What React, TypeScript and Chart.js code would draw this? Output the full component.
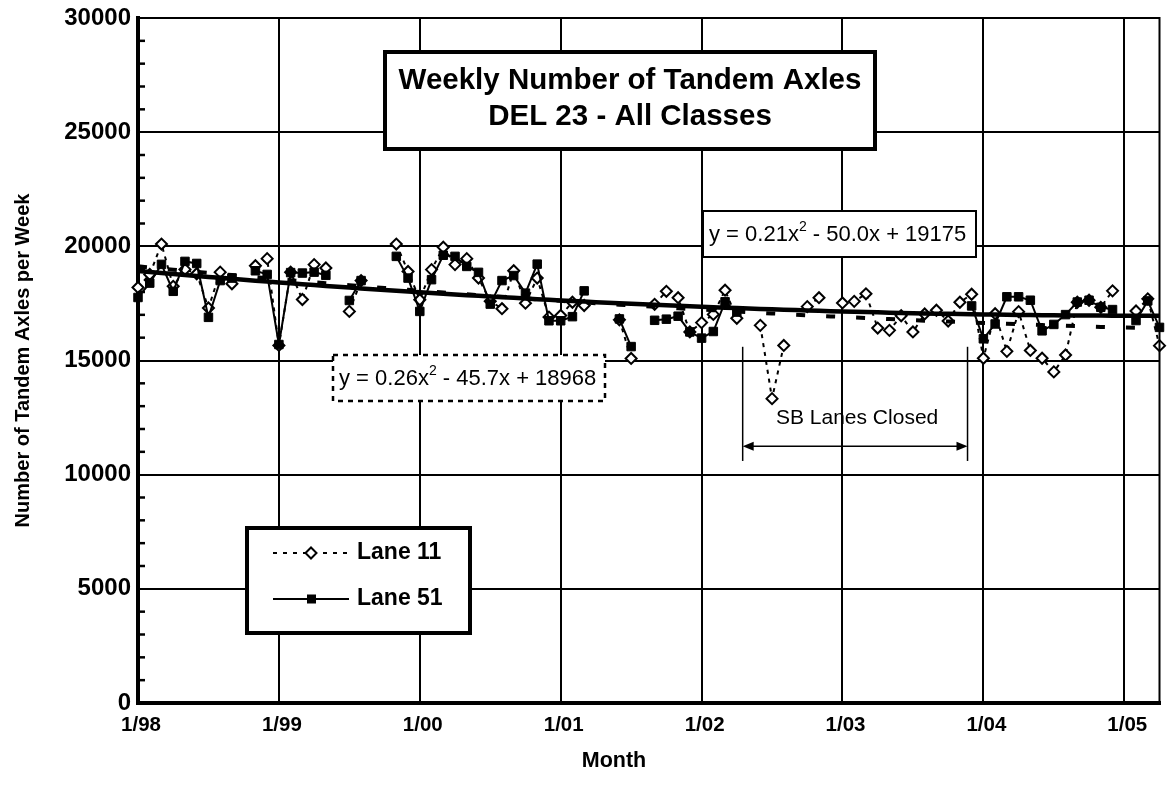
import { useEffect, useRef } from 'react';
import { Chart, registerables } from 'chart.js';

Chart.register(...registerables);

// Month index since 1/98 (0 = Jan 1998 ... 87 = Apr 2005)
const months = [
  0, 1, 2, 3, 4, 5, 6, 7, 8, 9, 10, 11, 12, 13, 14, 15, 16, 17, 18, 19, 20, 21,
  22, 23, 24, 25, 26, 27, 28, 29, 30, 31, 32, 33, 34, 35, 36, 37, 38, 39, 40, 41,
  42, 43, 44, 45, 46, 47, 48, 49, 50, 51, 52, 53, 54, 55, 56, 57, 58, 59, 60, 61,
  62, 63, 64, 65, 66, 67, 68, 69, 70, 71, 72, 73, 74, 75, 76, 77, 78, 79, 80, 81,
  82, 83, 84, 85, 86, 87,
];

const xTickMonths = [0, 12, 24, 36, 48, 60, 72, 84];
const xTickLabels = ['1/98', '1/99', '1/00', '1/01', '1/02', '1/03', '1/04', '1/05'];
const yTickValues = [0, 5000, 10000, 15000, 20000, 25000, 30000];

const lane11: (number | null)[] = [
  18200, 18770, 20100, 18250, 18990, 18800, 17300, 18870, 18360, null,
  19150, 19460, 15660, 18870, 17670, 19200, 19050, null, 17150, 18500,
  null, null, 20100, 18900, 17660, 18980, 19960, 19200, 19460, 18610,
  17600, 17270, 18930, 17510, 18610, 16900, 16970, 17550, 17410, null,
  null, 16780, 15090, null, 17460, 18030, 17750, 16250, 16660, 17020,
  18080, 16850, null, 16540, 13330, 15660, null, 17360, 17750, null,
  17520, 17590, 17920, 16420, 16320, 16960, 16250, 17040, 17200, 16730,
  17550, 17900, 15100, 17050, 15400, 17140, 15440, 15100, 14500, 15240,
  17550, 17640, 17330, 18050, null, 17170, 17700, 15650,
];

const lane51: (number | null)[] = [
  17760, 18390, 19210, 18030, 19340, 19250, 16890, 18500, 18610, null,
  18930, 18770, 15700, 18850, 18830, 18870, 18730, null, 17630, 18500,
  null, null, 19560, 18610, 17150, 18540, 19610, 19560, 19120, 18860,
  17470, 18500, 18720, 17950, 19220, 16740, 16740, 16920, 18050, null,
  null, 16820, 15610, null, 16760, 16810, 16940, 16250, 15980, 16270,
  17570, 17120, null, null, null, null, null, null, null, null,
  null, null, null, null, null, null, null, null, null, null,
  null, 17390, 15950, 16600, 17790, 17790, 17640, 16300, 16580, 17010,
  17560, 17640, 17330, 17230, null, 16750, 17610, 16450,
];

// Polynomial trend lines, as printed on the chart (x = 1 for the first month)
const trend11Coef = [0.26, -45.7, 18968];
const trend51Coef = [0.21, -50.0, 19175];

const seriesNames = ['Lane 11', 'Lane 51'];
const titleLines = ['Weekly Number of Tandem Axles', 'DEL 23 - All Classes'];
const xTitle = 'Month';
const yTitle = 'Number of Tandem Axles per Week';
const noteText = 'SB Lanes Closed';
// closure annotation in data units (month index, value)
const noteFromMonth = 51.5;
const noteToMonth = 70.65;
const noteTopValue = 15600;
const noteBottomValue = 10600;
const noteArrowValue = 11250;

const FONT = "'Liberation Sans', Arial, Helvetica, sans-serif";

function trendValues(coef: number[]) {
  return months.map((m) => {
    const t = m + 1;
    return { x: m, y: coef[0] * t * t + coef[1] * t + coef[2] };
  });
}

function eqParts(coef: number[]): [string, string] {
  const b = coef[1];
  return [
    `y = ${coef[0].toFixed(2)}x`,
    ` ${b < 0 ? '-' : '+'} ${Math.abs(b).toFixed(1)}x + ${coef[2]}`,
  ];
}

function txt(
  ctx: CanvasRenderingContext2D,
  s: string,
  x: number,
  y: number,
  size: number,
  bold: boolean,
  align: CanvasTextAlign = 'center',
) {
  ctx.save();
  ctx.font = `${bold ? 'bold ' : ''}${size}px ${FONT}`;
  ctx.textAlign = align;
  ctx.textBaseline = 'middle';
  ctx.fillStyle = '#000';
  ctx.fillText(s, x, y);
  ctx.restore();
}

function drawEq(ctx: CanvasRenderingContext2D, parts: [string, string], x: number, y: number, size: number) {
  ctx.save();
  ctx.fillStyle = '#000';
  ctx.textAlign = 'left';
  ctx.textBaseline = 'middle';
  ctx.font = `${size}px ${FONT}`;
  ctx.fillText(parts[0], x, y);
  let w = ctx.measureText(parts[0]).width;
  ctx.font = `${Math.round(size * 0.62)}px ${FONT}`;
  ctx.fillText('2', x + w, y - size * 0.36);
  w += ctx.measureText('2').width;
  ctx.font = `${size}px ${FONT}`;
  ctx.fillText(parts[1], x + w, y);
  ctx.restore();
}

function box(ctx: CanvasRenderingContext2D, x0: number, y0: number, x1: number, y1: number, lw: number, dash: number[] = []) {
  ctx.save();
  ctx.fillStyle = '#fff';
  ctx.fillRect(x0, y0, x1 - x0, y1 - y0);
  ctx.strokeStyle = '#000';
  ctx.lineWidth = lw;
  ctx.setLineDash(dash);
  ctx.strokeRect(x0, y0, x1 - x0, y1 - y0);
  ctx.restore();
}

function diamond(ctx: CanvasRenderingContext2D, x: number, y: number, r: number) {
  ctx.save();
  ctx.beginPath();
  ctx.moveTo(x - r, y);
  ctx.lineTo(x, y - r);
  ctx.lineTo(x + r, y);
  ctx.lineTo(x, y + r);
  ctx.closePath();
  ctx.fillStyle = '#fff';
  ctx.fill();
  ctx.lineWidth = 2;
  ctx.strokeStyle = '#000';
  ctx.stroke();
  ctx.restore();
}

function line(ctx: CanvasRenderingContext2D, x0: number, y0: number, x1: number, y1: number, lw: number, dash: number[] = []) {
  ctx.save();
  ctx.strokeStyle = '#000';
  ctx.lineWidth = lw;
  ctx.setLineDash(dash);
  ctx.beginPath();
  ctx.moveTo(x0, y0);
  ctx.lineTo(x1, y1);
  ctx.stroke();
  ctx.restore();
}

function arrowHead(ctx: CanvasRenderingContext2D, x: number, y: number, dir: number) {
  ctx.save();
  ctx.fillStyle = '#000';
  ctx.beginPath();
  ctx.moveTo(x, y);
  ctx.lineTo(x - dir * 11, y - 4.5);
  ctx.lineTo(x - dir * 11, y + 4.5);
  ctx.closePath();
  ctx.fill();
  ctx.restore();
}

const overlayPlugin = {
  id: 'overlay',
  afterDraw(chart: any) {
    const ctx: CanvasRenderingContext2D = chart.ctx;
    const ca = chart.chartArea;
    const xs = chart.scales.x;
    const ys = chart.scales.y;

    // right border of plot
    line(ctx, ca.right, ca.top - 1, ca.right, ca.bottom + 1, 2);

    // inner minor ticks on the value axis
    for (let v = 1000; v < 30000; v += 1000) {
      if (v % 5000 === 0) continue;
      const py = ys.getPixelForValue(v);
      line(ctx, ca.left, py, ca.left + 7, py, 2.5);
    }

    // tick labels
    yTickValues.forEach((v) => txt(ctx, String(v), ca.left - 7, ys.getPixelForValue(v), 24, true, 'right'));
    xTickMonths.forEach((m, i) => txt(ctx, xTickLabels[i], xs.getPixelForValue(m) + 3, ca.bottom + 22, 20.5, true));

    // axis titles
    txt(ctx, xTitle, 614, 761, 21.5, true);
    ctx.save();
    ctx.translate(23, (ca.top + ca.bottom) / 2);
    ctx.rotate(-Math.PI / 2);
    txt(ctx, yTitle, 0, 0, 20, true);
    ctx.restore();

    // chart title box
    box(ctx, 385, 52, 875, 149, 4);
    txt(ctx, titleLines[0], 630, 81, 29.5, true);
    txt(ctx, titleLines[1], 630, 117, 29.5, true);

    // trend equations
    box(ctx, 703, 211, 976, 257, 2);
    drawEq(ctx, eqParts(trend51Coef), 709, 235, 22);
    box(ctx, 333, 355, 605, 401, 2.5, [5, 5]);
    drawEq(ctx, eqParts(trend11Coef), 339, 379, 22);

    // closure annotation
    const nx0 = xs.getPixelForValue(noteFromMonth);
    const nx1 = xs.getPixelForValue(noteToMonth);
    const nyTop = ys.getPixelForValue(noteTopValue);
    const nyBot = ys.getPixelForValue(noteBottomValue);
    const nyArr = ys.getPixelForValue(noteArrowValue);
    line(ctx, nx0, nyTop, nx0, nyBot, 1.5);
    line(ctx, nx1, nyTop, nx1, nyBot, 1.5);
    line(ctx, nx0 + 4, nyArr, nx1 - 4, nyArr, 1.5);
    arrowHead(ctx, nx0, nyArr, -1);
    arrowHead(ctx, nx1, nyArr, 1);
    txt(ctx, noteText, (nx0 + nx1) / 2 + 2, nyArr - 28, 21, false);

    // legend
    box(ctx, 247, 528, 470, 633, 4);
    const r1 = 553;
    const r2 = 599;
    line(ctx, 273, r1, 349, r1, 2, [4, 6]);
    diamond(ctx, 311, r1, 5.5);
    txt(ctx, seriesNames[0], 357, r1, 23, true, 'left');
    line(ctx, 273, r2, 349, r2, 2);
    ctx.fillStyle = '#000';
    ctx.fillRect(307, r2 - 4.5, 9, 9);
    txt(ctx, seriesNames[1], 357, r2, 23, true, 'left');
  },
};

export default function App() {
  const ref = useRef<HTMLCanvasElement | null>(null);

  useEffect(() => {
    if (!ref.current) return;
    const chart = new Chart(ref.current, {
      type: 'line',
      data: {
        datasets: [
          {
            label: 'Trend Lane 11',
            data: trendValues(trend11Coef),
            borderColor: '#000',
            borderWidth: 4.5,
            pointRadius: 0,
            fill: false,
            clip: false as any,
          },
          {
            label: 'Trend Lane 51',
            data: trendValues(trend51Coef),
            borderColor: '#000',
            borderWidth: 4,
            borderDash: [9, 21],
            pointRadius: 0,
            fill: false,
          },
          {
            label: seriesNames[1],
            data: months.map((m, i) => ({ x: m, y: lane51[i] })),
            borderColor: '#000',
            borderWidth: 2,
            pointStyle: 'rect',
            pointRadius: 6,
            pointBackgroundColor: '#000',
            pointBorderColor: '#000',
            pointBorderWidth: 1,
            spanGaps: false,
            clip: false as any,
          },
          {
            label: seriesNames[0],
            data: months.map((m, i) => ({ x: m, y: lane11[i] })),
            borderColor: '#000',
            borderWidth: 2,
            borderDash: [4, 5],
            pointStyle: 'rectRot',
            pointRadius: 5.5,
            pointBackgroundColor: '#fff',
            pointBorderColor: '#000',
            pointBorderWidth: 2,
            spanGaps: false,
            clip: false as any,
          },
        ],
      },
      options: {
        responsive: false,
        animation: false,
        events: [],
        layout: { padding: { left: 138, right: 2, top: 18, bottom: 83 } },
        plugins: {
          legend: { display: false },
          tooltip: { enabled: false },
          title: { display: false },
        },
        scales: {
          x: {
            type: 'linear',
            min: 0,
            max: 87,
            afterBuildTicks: (s: any) => {
              s.ticks = xTickMonths.map((v) => ({ value: v }));
            },
            afterFit: (s: any) => {
              s.height = 0;
            },
            ticks: { display: false },
            grid: { color: '#000', lineWidth: 2, drawTicks: false },
            border: { color: '#000', width: 4 },
          },
          y: {
            min: 0,
            max: 30000,
            afterFit: (s: any) => {
              s.width = 0;
            },
            ticks: { display: false, stepSize: 5000 },
            grid: { color: '#000', lineWidth: 2, drawTicks: false },
            border: { color: '#000', width: 4 },
          },
        },
      },
      plugins: [overlayPlugin],
    });
    return () => chart.destroy();
  }, []);

  return (
    <canvas
      ref={ref}
      width={1167}
      height={786}
      style={{ position: 'absolute', left: 0, top: 0, width: '1167px', height: '786px' }}
    />
  );
}
